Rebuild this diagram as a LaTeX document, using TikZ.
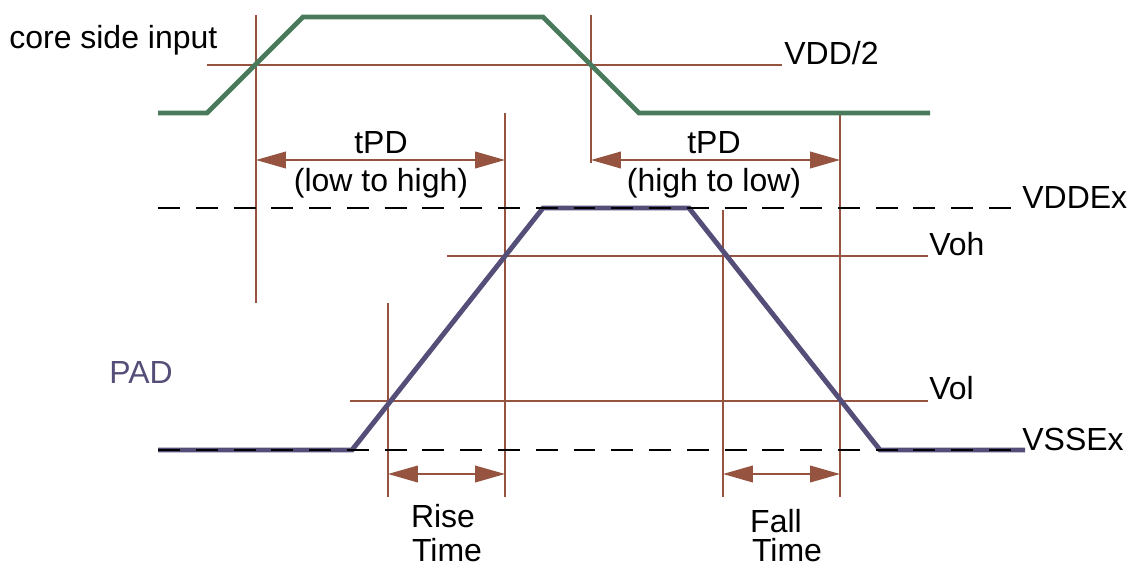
\documentclass[tikz,border=0pt]{standalone}
\usepackage{fontspec}
\setmainfont{Liberation Sans}
\usetikzlibrary{arrows.meta}
\definecolor{coregreen}{RGB}{74,122,92}
\definecolor{padpurple}{RGB}{84,78,120}
\definecolor{markbrown}{RGB}{150,84,64}
\begin{document}
\begin{tikzpicture}[x=0.02cm, y=-0.02cm, font=\fontsize{18.2}{21}\selectfont,
    mark line/.style={markbrown, line width=.8pt},
    level line/.style={black, line width=.8pt, dash pattern=on 12.5pt off 9pt},
    time arrow/.style={markbrown, line width=.8pt,
      {Triangle[length=17pt,width=9.5pt]}-{Triangle[length=17pt,width=9.5pt]}},
    signal/.style={line width=2.8pt}]
    \useasboundingbox (0,0) rectangle (1130,565);

    % thin reference lines
    \draw[mark line] (207,65) -- (782,65);
    \draw[mark line] (447,256) -- (928,256);
    \draw[mark line] (350,401) -- (928,401);
    \draw[mark line] (256,15) -- (256,303);
    \draw[mark line] (591,15) -- (591,163);
    \draw[mark line] (505,113) -- (505,497);
    \draw[mark line] (840,113) -- (840,497);
    \draw[mark line] (388,303) -- (388,497);
    \draw[mark line] (723,210) -- (723,497);

    % signals
    \draw[signal, coregreen] (158,113) -- (207,113) -- (303,17) -- (543,17)
      -- (639,113) -- (930,113);
    \draw[signal, padpurple] (158,450) -- (352,450) -- (543,208) -- (689,208)
      -- (880,450) -- (1025,450);

    % rails
    \draw[level line] (158,208) -- (1018,208);
    \draw[level line] (158,450) -- (1018,450);

    % timing arrows
    \coordinate (lh start) at (256,160);
    \coordinate (lh end) at (505,160);
    \coordinate (hl start) at (591,160);
    \coordinate (hl end) at (840,160);
    \coordinate (rise start) at (388,474);
    \coordinate (rise end) at (505,474);
    \coordinate (fall start) at (723,474);
    \coordinate (fall end) at (840,474);
    \draw[time arrow] (lh start) -- (lh end);
    \draw[time arrow] (hl start) -- (hl end);
    \draw[time arrow] (rise start) -- (rise end);
    \draw[time arrow] (fall start) -- (fall end);

    % labels
    \node[anchor=west, inner sep=0] (core) at (9,40) {core side input};
    \node[anchor=west, inner sep=0, padpurple] (pad) at (109,372) {PAD};
    \node[anchor=west, inner sep=0] (vdd2) at (784,53) {VDD/2};
    \node[anchor=west, inner sep=0] (vddex) at (1022,197) {VDDEx};
    \node[anchor=west, inner sep=0] (voh) at (929,244) {Voh};
    \node[anchor=west, inner sep=0] (vol) at (929,388) {Vol};
    \node[anchor=west, inner sep=0] (vssex) at (1022,439) {VSSEx};
    \node[inner sep=0] (lh top) at (381,143) {tPD};
    \node[inner sep=0] (lh bot) at (381,183) {(low to high)};
    \node[inner sep=0] (hl top) at (714,143) {tPD};
    \node[inner sep=0] (hl bot) at (714,183) {(high to low)};
    \node[inner sep=0] (rise top) at (443,516) {Rise};
    \node[inner sep=0] (rise bot) at (447,550) {Time};
    \node[inner sep=0] (fall top) at (776,521) {Fall};
    \node[inner sep=0] (fall bot) at (787,550) {Time};
\end{tikzpicture}
\end{document}
